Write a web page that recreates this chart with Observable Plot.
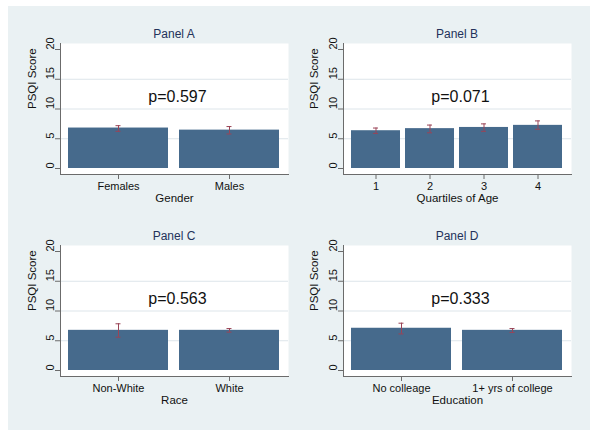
<!DOCTYPE html>
<html>
<head>
<meta charset="utf-8">
<script src="https://cdn.jsdelivr.net/npm/d3@7"></script>
<script src="https://cdn.jsdelivr.net/npm/@observablehq/plot@0.6"></script>
<style>
  html, body { margin: 0; padding: 0; background: #ffffff; }
  body { width: 600px; height: 439px; position: relative; overflow: hidden; font-family: Arial, "Liberation Sans", sans-serif; }
  #bg { position: absolute; left: 8px; top: 6px; width: 582px; height: 424px; background: #eaf1f3; }
  .ptitle { position: absolute; width: 228px; text-align: center; font-size: 12px; color: #23325a; line-height: 14px; }
  .panel { position: absolute; }
</style>
</head>
<body>
<div id="bg"></div>
<script>
// ---- Data ----
const panelTitles = ["Panel A", "Panel B", "Panel C", "Panel D"];
const xTitles = ["Gender", "Quartiles of Age", "Race", "Education"];
const pValues = ["0.597", "0.071", "0.563", "0.333"];
const yTicks = [0, 5, 10, 15, 20];
const gridTicks = [5, 10, 15];

const genderCats = ["Females", "Males"];
const genderMean = [6.8, 6.45];
const genderLo = [6.25, 5.8];
const genderHi = [7.2, 7.05];

const ageCats = ["1", "2", "3", "4"];
const ageMean = [6.35, 6.7, 6.9, 7.25];
const ageLo = [5.9, 6.0, 6.25, 6.6];
const ageHi = [6.8, 7.3, 7.5, 8.0];

const raceCats = ["Non-White", "White"];
const raceMean = [6.75, 6.75];
const raceLo = [5.6, 6.45];
const raceHi = [7.85, 7.05];

const eduCats = ["No colleage", "1+ yrs of college"];
const eduMean = [7.1, 6.75];
const eduLo = [6.15, 6.4];
const eduHi = [7.95, 7.05];

// ---- Layout ----
const BAR = "#466a8c";
const ERR = "#9a4456";
const AXIS = "#6b6b6b";
const pAnnotY = 12;

const layouts = [
  {left: 0,   top: 30,  mL: 60, mR: 12, titleX: 60,  titleY: 27},
  {left: 300, top: 30,  mL: 43, mR: 29, titleX: 343, titleY: 27},
  {left: 0,   top: 232, mL: 60, mR: 12, titleX: 60,  titleY: 229},
  {left: 300, top: 232, mL: 43, mR: 29, titleX: 343, titleY: 229}
];
const series = [
  [genderCats, genderMean, genderLo, genderHi],
  [ageCats, ageMean, ageLo, ageHi],
  [raceCats, raceMean, raceLo, raceHi],
  [eduCats, eduMean, eduLo, eduHi]
];

const W = 300, H = 185, mT = 13, mB = 41;

series.forEach(([cats, mean, lo, hi], i) => {
  const L = layouts[i];
  const data = cats.map((c, j) => ({cat: c, mean: mean[j], lo: lo[j], hi: hi[j]}));
  const n = cats.length;
  const pad = n === 2 ? 0.098 : 0.09;
  const padOuter = n === 2 ? 0.067 : 0.12;
  const frameW = W - L.mL - L.mR;
  const step = frameW / (n - pad + 2 * padOuter);
  const bw = step * (1 - pad);
  const capInset = bw / 2 - 3;

  const chart = Plot.plot({
    width: W, height: H,
    marginLeft: L.mL, marginRight: L.mR, marginTop: mT, marginBottom: mB,
    style: {background: "transparent", fontFamily: "Arial, 'Liberation Sans', sans-serif", fontSize: "11px", color: "#111", overflow: "visible"},
    x: {type: "band", domain: cats, padding: pad, paddingOuter: padOuter, label: null},
    y: {domain: [0, 20], insetTop: 6, insetBottom: 6, label: null},
    marks: [
      Plot.frame({fill: "white", stroke: null}),
      Plot.gridY(gridTicks, {stroke: "#dde5ea", strokeOpacity: 1}),
      Plot.barY(data, {x: "cat", y: "mean", fill: BAR}),
      Plot.ruleX(data, {x: "cat", y1: "lo", y2: "hi", stroke: ERR, strokeWidth: 1}),
      Plot.tickY(data, {x: "cat", y: "hi", stroke: ERR, insetLeft: capInset, insetRight: capInset}),
      Plot.tickY(data, {x: "cat", y: "lo", stroke: ERR, insetLeft: capInset, insetRight: capInset}),
      Plot.frame({anchor: "left", stroke: AXIS}),
      Plot.frame({anchor: "bottom", stroke: AXIS}),
      Plot.axisY({ticks: yTicks, tickSize: 5, stroke: AXIS, tickFormat: () => "", label: null}),
      Plot.text(yTicks, {y: d => d, frameAnchor: "left", dx: -10, rotate: -90, text: d => String(d), fontSize: 11, fill: "#111"}),
      Plot.axisX({tickSize: 5, tickPadding: 3, stroke: AXIS, fontSize: 11, fill: "#111", label: null}),
      Plot.text(["PSQI Score"], {frameAnchor: "left", dx: -(i % 2 === 0 ? 28 : 29), rotate: -90, fontSize: 11.5, fill: "#111"}),
      Plot.text([xTitles[i]], {frameAnchor: "bottom", dy: 27, fontSize: 11.5, fill: "#111"}),
      Plot.text(["p=" + pValues[i]], {y: () => pAnnotY, frameAnchor: "middle", dx: 3, fontSize: 16, fill: "#111"})
    ]
  });
  chart.classList.add("panel");
  chart.style.position = "absolute";
  chart.style.left = L.left + "px";
  chart.style.top = L.top + "px";
  document.body.appendChild(chart);

  const t = document.createElement("div");
  t.className = "ptitle";
  t.style.left = L.titleX + "px";
  t.style.top = L.titleY + "px";
  t.textContent = panelTitles[i];
  document.body.appendChild(t);
});
</script>
</body>
</html>
